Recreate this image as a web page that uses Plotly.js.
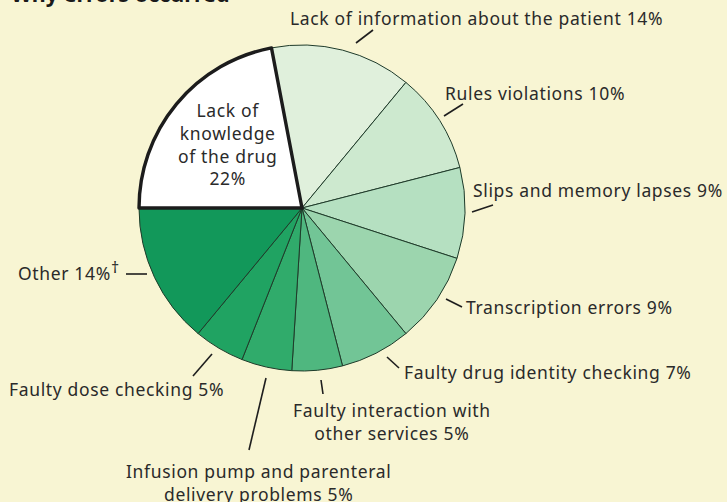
<!DOCTYPE html>
<html>
<head>
<meta charset="utf-8">
<script src="https://cdn.plot.ly/plotly-3.0.1.min.js"></script>
<style>
  html, body { margin: 0; padding: 0; background: #f8f5d3; }
  #chart { width: 727px; height: 502px; }
  text { letter-spacing: 0.65px; }
</style>
</head>
<body>
<div id="chart"></div>
<script>
// Data, in clockwise order starting just left of 12 o'clock
const categories = [
  "Lack of information about the patient",
  "Rules violations",
  "Slips and memory lapses",
  "Transcription errors",
  "Faulty drug identity checking",
  "Faulty interaction with other services",
  "Infusion pump and parenteral delivery problems",
  "Faulty dose checking",
  "Other",
  "Lack of knowledge of the drug"
];
const values = [14, 10, 9, 9, 7, 5, 5, 5, 14, 22];
const sliceColors = [
  "#e0f0dc", "#cde9cf", "#b5e0c1", "#9cd5ae", "#72c596",
  "#4fb77f", "#30ab6b", "#20a362", "#12985a", "#ffffff"
];
const labelTexts = [
  "Lack of information about the patient 14%",
  "Rules violations 10%",
  "Slips and memory lapses 9%",
  "Transcription errors 9%",
  "Faulty drug identity checking 7%",
  "Faulty interaction with<br>other services 5%",
  "Infusion pump and parenteral<br>delivery problems 5%",
  "Faulty dose checking 5%",
  "Other 14%<sup><span style=\"font-size:16px\">†</span></sup>",
  "Lack of<br>knowledge<br>of the drug<br>22%"
];
const titleText = "Why errors occurred";

// Layout helpers (pixel -> paper)
const W = 727, H = 502;
const px = x => x / W;
const py = y => 1 - y / H;
const cx = 302, cy = 208, R = 163;

// rotation so that the last slice (22%) ends at 9 o'clock going clockwise
const total = values.reduce((a, b) => a + b, 0);
const lastFrac = values[values.length - 1] / total;
const rotation = -90 + lastFrac * 360;

const lineWidths = values.map((v, i) => i === values.length - 1 ? 3.4 : 1);
const lineColors = values.map((v, i) => i === values.length - 1 ? "#1c1c1c" : "#1f3b2a");

const trace = {
  type: "pie",
  values: values,
  labels: categories,
  sort: false,
  direction: "clockwise",
  rotation: rotation,
  textinfo: "none",
  hoverinfo: "label+percent",
  marker: { colors: sliceColors, line: { width: lineWidths, color: lineColors } },
  domain: { x: [px(cx - R), px(cx + R)], y: [py(cy + R), py(cy - R)] },
  showlegend: false
};

const font = { family: "Noto Sans, Open Sans, sans-serif", size: 17.5, color: "#2a2a2a" };

// label placement: [x, y, xanchor, align]
const labelPos = [
  [288, 18, "left", "left"],
  [443, 93, "left", "left"],
  [725, 190, "right", "left"],
  [464, 307, "left", "left"],
  [402, 372, "left", "left"],
  [392, 421, "center", "center"],
  [258, 482, "center", "center"],
  [7, 389, "left", "left"],
  [16, 270, "left", "left"],
  [227, 144, "center", "center"]
];
const tickLines = [
  [356, 43, 373, 30],
  [444, 116, 463, 104],
  [472, 212, 493, 205],
  [446, 299, 462, 307],
  [387, 357, 399, 368],
  [321, 380, 323, 394],
  [266, 378, 249, 450],
  [212, 354, 193, 376],
  [126, 274, 147, 274]
];

const annotations = labelTexts.map((t, i) => ({
  text: t,
  x: px(labelPos[i][0]), y: py(labelPos[i][1]),
  xref: "paper", yref: "paper",
  xanchor: labelPos[i][2], yanchor: "middle",
  align: labelPos[i][3],
  showarrow: false,
  font: font
}));
annotations.push({
  text: "<b><span style=\"letter-spacing:0px\">" + titleText + "</span></b>",
  x: px(9), y: py(10), xref: "paper", yref: "paper",
  xanchor: "left", yanchor: "bottom", showarrow: false,
  font: { family: "Noto Sans, Open Sans, sans-serif", size: 21.5, color: "#1a1a1a" }
});

const shapes = tickLines.map(l => ({
  type: "line", xref: "paper", yref: "paper",
  x0: px(l[0]), y0: py(l[1]), x1: px(l[2]), y1: py(l[3]),
  line: { color: "#1e1e1e", width: 1.6 }
}));

const layout = {
  width: W, height: H,
  margin: { l: 0, r: 0, t: 0, b: 0 },
  paper_bgcolor: "#f8f5d3",
  plot_bgcolor: "#f8f5d3",
  annotations: annotations,
  shapes: shapes
};

Plotly.newPlot("chart", [trace], layout, { displayModeBar: false, staticPlot: true });
</script>
</body>
</html>
